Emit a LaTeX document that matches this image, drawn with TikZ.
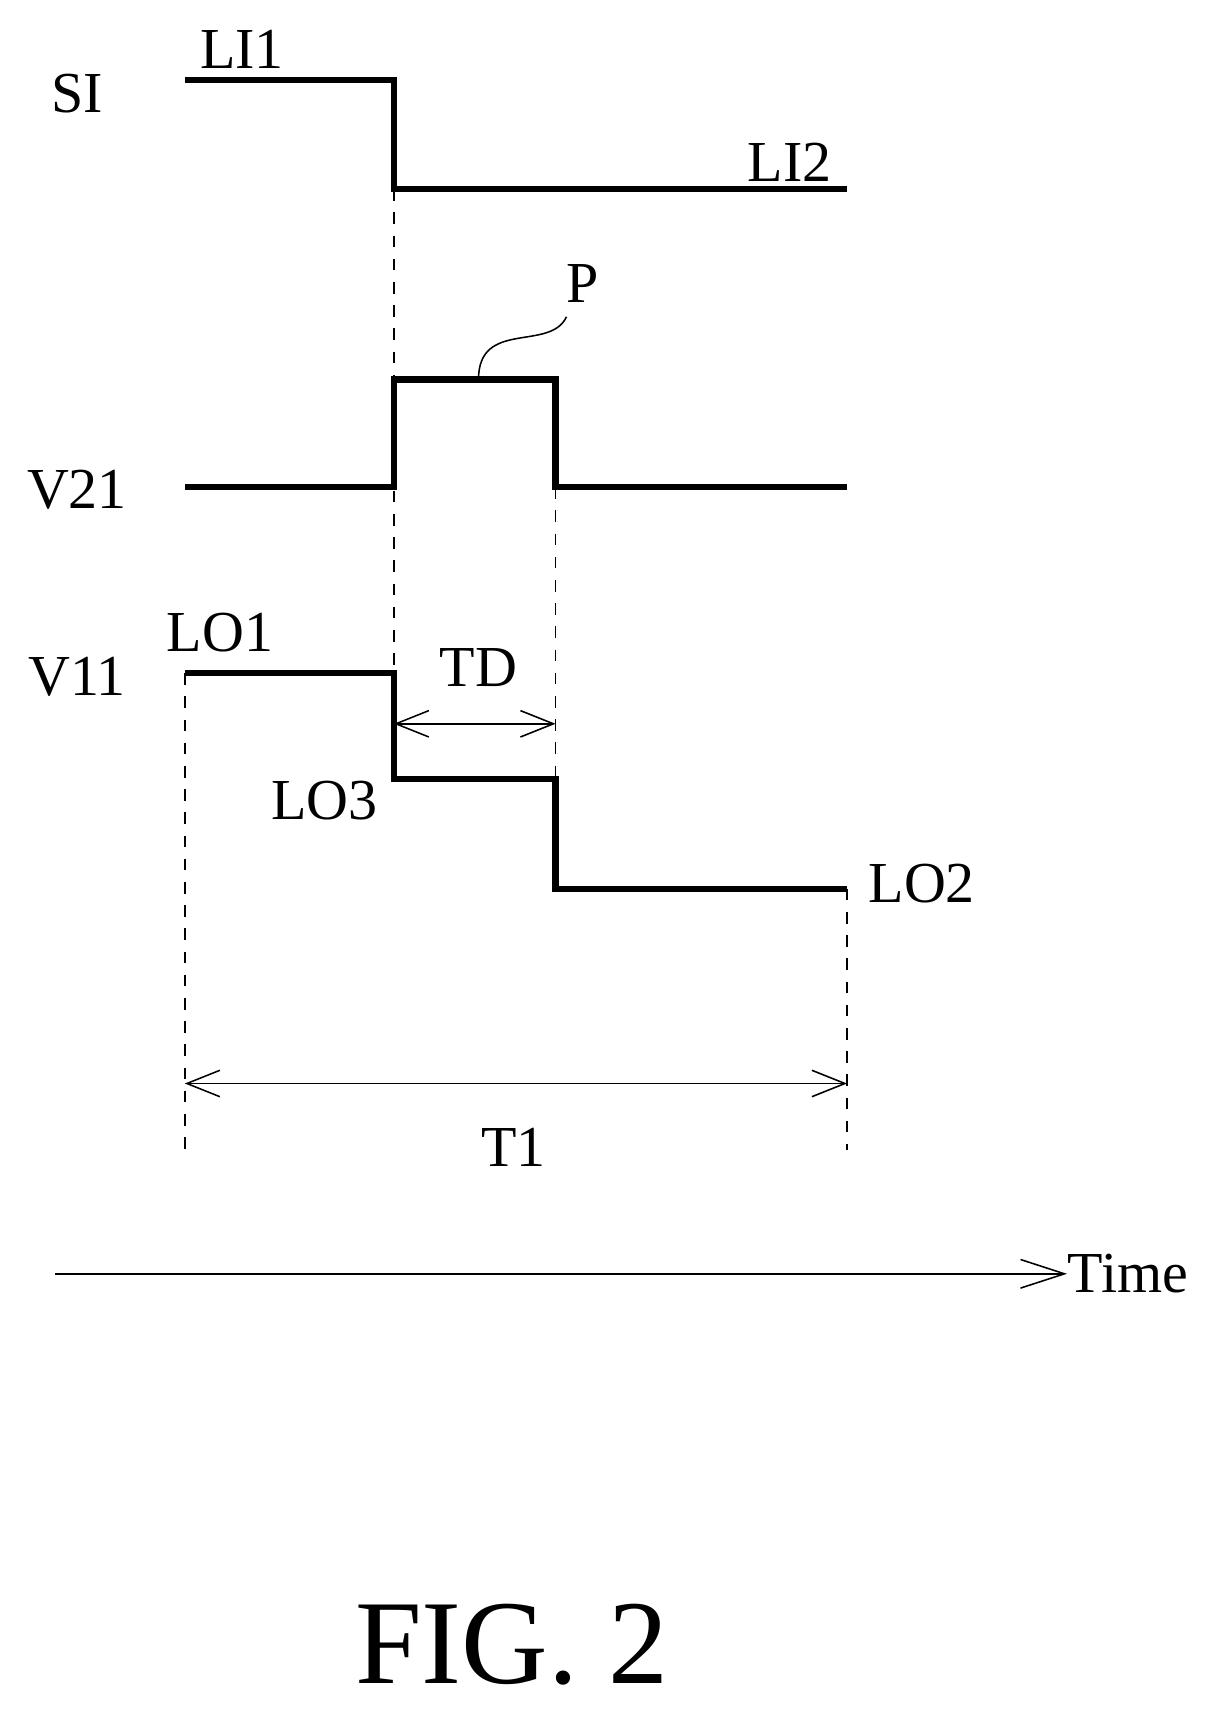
\documentclass[tikz,border=0pt]{standalone}
\usepackage{fontspec}
\setmainfont{Liberation Serif}
\usetikzlibrary{arrows.meta,positioning}
\tikzstyle{wave} = [draw, line width=1.6pt]
\tikzstyle{guide} = [draw, dashed, thin]
\tikzstyle{dim} = [draw, thin, {Straight Barb[length=3mm,width=2.4mm]}-{Straight Barb[length=3mm,width=2.4mm]}]
\tikzstyle{lbl} = [font=\fontsize{15}{18}\selectfont, inner sep=0pt]
\begin{document}
\begin{tikzpicture}[x=1cm,y=-1cm]
	\useasboundingbox (0,0) rectangle (11,15.6);
	% Signal names
	\node [lbl] at (0.7,0.85) (SI) {SI};
	\node [lbl] at (0.7,4.45) (V21) {V21};
	\node [lbl] at (0.7,6.15) (V11) {V11};
	% Waveforms
	\path [wave] (1.68,0.73) -- (3.58,0.73) -- (3.58,1.72) -- (7.70,1.72);
	\path [wave] (1.68,4.43) -- (3.58,4.43) -- (3.58,3.45) -- (5.05,3.45) -- (5.05,4.43) -- (7.70,4.43);
	\path [wave] (1.68,6.12) -- (3.58,6.12) -- (3.58,7.08) -- (5.05,7.08) -- (5.05,8.08) -- (7.70,8.08);
	% Level labels
	\node [lbl] at (2.2,0.45) (LI1) {LI1};
	\node [lbl] at (7.18,1.48) (LI2) {LI2};
	\node [lbl] at (2.0,5.75) (LO1) {LO1};
	\node [lbl] at (2.95,7.28) (LO3) {LO3};
	\node [lbl] at (8.38,8.03) (LO2) {LO2};
	\node [lbl] at (5.3,2.58) (P) {P};
	\path [draw, thin] (4.35,3.45) .. controls (4.35,2.9) and (5.0,3.2) .. (5.15,2.88);
	% Guides
	\path [guide] (3.58,1.72) -- (3.58,6.12);
	\path [guide] (5.05,4.43) -- (5.05,8.08);
	\path [guide] (1.68,6.12) -- (1.68,10.45);
	\path [guide] (7.70,8.08) -- (7.70,10.45);
	% Intervals
	\coordinate (tdA) at (3.58,6.58);
	\coordinate (tdB) at (5.05,6.58);
	\path [dim] (tdA) -- (tdB);
	\node [lbl] at (4.35,6.07) (TD) {TD};
	\coordinate (tA) at (1.68,9.85);
	\coordinate (tB) at (7.70,9.85);
	\path [dim] (tA) -- (tB);
	\node [lbl] at (4.67,10.43) (T1) {T1};
	% Time axis
	\coordinate (ax) at (0.5,11.58);
	\node [lbl, anchor=west] at (9.7,11.58) (time) {Time};
	\path [draw, thin, -{Straight Barb[length=4mm,width=2.6mm]}] (ax) -- (time.west);
	\node [font=\fontsize{31}{36}\selectfont] at (4.65,14.95) (fig) {FIG. 2};
\end{tikzpicture}
\end{document}
